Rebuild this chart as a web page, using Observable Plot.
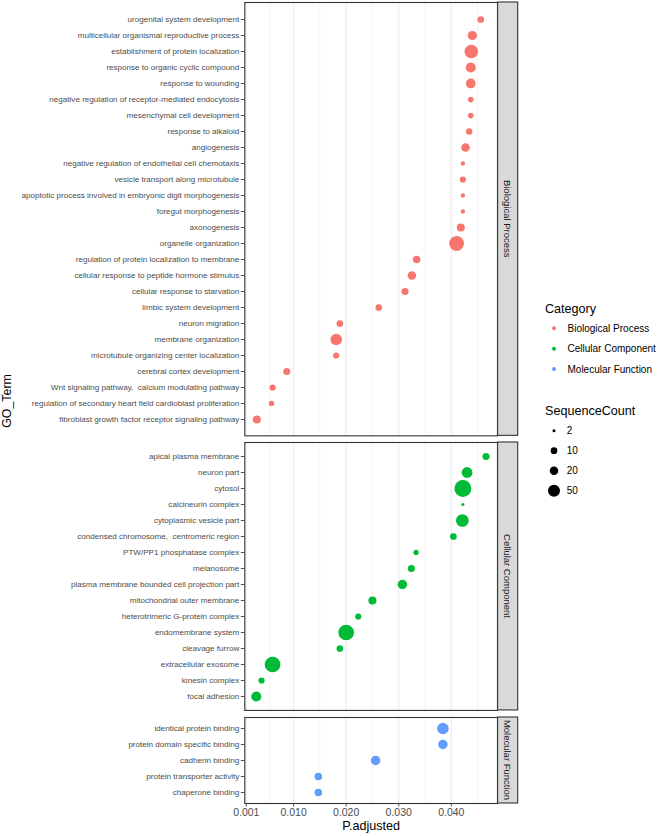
<!DOCTYPE html>
<html><head><meta charset="utf-8">
<script src="https://cdn.jsdelivr.net/npm/d3@7"></script>
<script src="https://cdn.jsdelivr.net/npm/@observablehq/plot@0.6"></script>
<style>
body{margin:0;background:#fff;font-family:"Liberation Sans",Arial,Helvetica,sans-serif;}
#root{position:relative;width:660px;height:836px;overflow:hidden;background:#fff;}
.pane{position:absolute;left:0;}
#overlay{position:absolute;left:0;top:0;pointer-events:none;}
</style></head><body><div id="root"></div>
<script>
// ---------- data ----------
const categories = ["Biological Process", "Cellular Component", "Molecular Function"];
const categoryColors = ["#F8766D", "#00BA38", "#619CFF"];

const bpTerms = [
  "urogenital system development",
  "multicellular organismal reproductive process",
  "establishment of protein localization",
  "response to organic cyclic compound",
  "response to wounding",
  "negative regulation of receptor-mediated endocytosis",
  "mesenchymal cell development",
  "response to alkaloid",
  "angiogenesis",
  "negative regulation of endothelial cell chemotaxis",
  "vesicle transport along microtubule",
  "apoptotic process involved in embryonic digit morphogenesis",
  "foregut morphogenesis",
  "axonogenesis",
  "organelle organization",
  "regulation of protein localization to membrane",
  "cellular response to peptide hormone stimulus",
  "cellular response to starvation",
  "limbic system development",
  "neuron migration",
  "membrane organization",
  "microtubule organizing center localization",
  "cerebral cortex development",
  "Wnt signaling pathway,\u00a0 calcium modulating pathway",
  "regulation of secondary heart field cardioblast proliferation",
  "fibroblast growth factor receptor signaling pathway"
];
const bpPadj = [0.0456, 0.0440, 0.0438, 0.0437, 0.0437, 0.0437, 0.0437, 0.0434, 0.0427, 0.0422,
  0.0422, 0.0422, 0.0422, 0.0418, 0.0410, 0.0334, 0.0325, 0.0312, 0.0262, 0.0188,
  0.0181, 0.0181, 0.0087, 0.0060, 0.0058, 0.0030];
const bpCount = [10, 25, 68, 32, 29, 6, 6, 9, 20, 3,
  8, 3, 3, 17, 85, 14, 20, 12, 10, 10,
  45, 8, 12, 8, 5, 17];

const ccTerms = [
  "apical plasma membrane",
  "neuron part",
  "cytosol",
  "calcineurin complex",
  "cytoplasmic vesicle part",
  "condensed chromosome,\u00a0 centromeric region",
  "PTW/PP1 phosphatase complex",
  "melanosome",
  "plasma membrane bounded cell projection part",
  "mitochondrial outer membrane",
  "heterotrimeric G-protein complex",
  "endomembrane system",
  "cleavage furrow",
  "extracellular exosome",
  "kinesin complex",
  "focal adhesion"
];
const ccPadj = [0.0466, 0.0430, 0.0422, 0.0422, 0.0421, 0.0404, 0.0333, 0.0324, 0.0307, 0.0250,
  0.0223, 0.0200, 0.0188, 0.0060, 0.0039, 0.0029];
const ccCount = [12, 38, 115, 2, 58, 10, 5, 12, 27, 17, 8, 97, 10, 97, 8, 32];

const mfTerms = [
  "identical protein binding",
  "protein domain specific binding",
  "cadherin binding",
  "protein transporter activity",
  "chaperone binding"
];
const mfPadj = [0.0384, 0.0384, 0.0256, 0.0147, 0.0147];
const mfCount = [45, 27, 27, 14, 14];

const xTicks = [0.001, 0.010, 0.020, 0.030, 0.040];
const sizeBreaks = [2, 10, 20, 50];

(function () {
// ---------- layout ----------
const FONT = "Liberation Sans, Arial, Helvetica, sans-serif";
const STEP = 16.54, GAP = 7, TOP0 = 1.5;
const W = 520, ML = 244.3, MR = 23;
const allP = [...bpPadj, ...ccPadj, ...mfPadj];
const pMin = d3.min(allP), pMax = d3.max(allP), span = pMax - pMin;
const xDomain = [pMin - 0.05 * span, pMax + 0.05 * span];
const minorTicks = xTicks.slice(1).map((t, i) => (t + xTicks[i]) / 2)
  .concat([xTicks[xTicks.length - 1] + (xTicks[2] - xTicks[1]) / 2]);
const sizeT = n => Math.sqrt(n - sizeBreaks[0]);
const rOpts = {type: "linear", domain: [sizeT(sizeBreaks[0]), sizeT(sizeBreaks[sizeBreaks.length - 1])], range: [1.5, 6]};
const colorOpts = {domain: categories, range: categoryColors};

const root = document.getElementById("root");
const panels = [
  {terms: bpTerms, p: bpPadj, n: bpCount, cat: categories[0]},
  {terms: ccTerms, p: ccPadj, n: ccCount, cat: categories[1]},
  {terms: mfTerms, p: mfPadj, n: mfCount, cat: categories[2]}
];
let yTop = TOP0;
let lastChart = null;
panels.forEach((pn, k) => {
  const last = k === panels.length - 1;
  const data = pn.terms.map((t, i) => ({term: t, p: pn.p[i], n: pn.n[i], cat: pn.cat}));
  const H = (pn.terms.length - 1 + 1.2) * STEP;
  const mt = 2, mb = last ? 33 : 2;
  const chart = Plot.plot({
    width: W, height: H + mt + mb,
    marginLeft: ML, marginRight: MR, marginTop: mt, marginBottom: mb,
    style: {fontFamily: FONT, fontSize: "8.1px", color: "#4d4d4d", background: "transparent", overflow: "visible"},
    x: {domain: xDomain, label: null, axis: null},
    y: {type: "point", domain: pn.terms, padding: 0.6, label: null, axis: null},
    r: rOpts,
    color: colorOpts,
    marks: [
      Plot.ruleX(minorTicks, {stroke: "#ebebeb", strokeWidth: 0.6}),
      Plot.ruleX(xTicks, {stroke: "#ebebeb", strokeWidth: 1.1}),
      Plot.axisY({tickSize: 3.5, tickPadding: 2, fontSize: 8.1, label: null}),
      Plot.dot(data, {x: "p", y: "term", r: d => sizeT(d.n), fill: "cat"}),
      Plot.frame({stroke: "#333", strokeWidth: 1.1}),
      last ? Plot.axisX({ticks: xTicks, tickFormat: d3.format(".3f"), tickSize: 3.5, tickPadding: 1.5, fontSize: 10.5, label: null}) : null,
      last ? Plot.text(["P.adjusted"], {frameAnchor: "bottom", dy: 26.5, fontSize: 12.6, fill: "black"}) : null
    ]
  });
  // facet strip
  const svg = d3.select(chart);
  const sx = W - MR + 0.6, sw = 20.1;
  svg.append("rect").attr("x", sx).attr("y", mt).attr("width", sw).attr("height", H)
    .attr("fill", "#d9d9d9").attr("stroke", "#333").attr("stroke-width", 1.1);
  svg.append("text").attr("transform", `translate(${sx + sw / 2},${mt + H / 2}) rotate(90)`)
    .attr("text-anchor", "middle").attr("dominant-baseline", "central")
    .attr("font-size", 9.5).attr("font-family", FONT).attr("fill", "#1a1a1a").text(pn.cat);
  const div = document.createElement("div");
  div.className = "pane";
  div.style.top = (yTop - mt) + "px";
  div.appendChild(chart);
  root.appendChild(div);
  lastChart = chart;
  yTop += H + GAP;
});

// ---------- overlay: y title + legends ----------
const rScale = lastChart.scale("r");
const cScale = lastChart.scale("color");
const ov = d3.select(root).append("svg").attr("id", "overlay").attr("width", 660).attr("height", 836)
  .attr("font-family", FONT);
ov.append("text").attr("transform", "translate(7,401) rotate(-90)")
  .attr("text-anchor", "middle").attr("dominant-baseline", "central")
  .attr("font-size", 12.4).attr("fill", "black").text("GO_Term");

const LX = 545, DX = 554, TX = 567.5;
ov.append("text").attr("x", LX).attr("y", 313).attr("font-size", 12.6).attr("fill", "black").text("Category");
categories.forEach((c, i) => {
  const y = 328.3 + i * 20.35;
  ov.append("circle").attr("cx", DX).attr("cy", y).attr("r", 2).attr("fill", cScale.apply(c));
  ov.append("text").attr("x", TX).attr("y", y).attr("dominant-baseline", "central")
    .attr("font-size", 10).attr("fill", "black").text(c);
});
ov.append("text").attr("x", LX).attr("y", 415).attr("font-size", 12.6).attr("fill", "black").text("SequenceCount");
sizeBreaks.forEach((b, i) => {
  const y = 430.7 + i * 20;
  ov.append("circle").attr("cx", DX).attr("cy", y).attr("r", rScale.apply(sizeT(b))).attr("fill", "black");
  ov.append("text").attr("x", TX - 0.8).attr("y", y).attr("dominant-baseline", "central")
    .attr("font-size", 10).attr("fill", "black").text(b);
});
})();
</script></body></html>
